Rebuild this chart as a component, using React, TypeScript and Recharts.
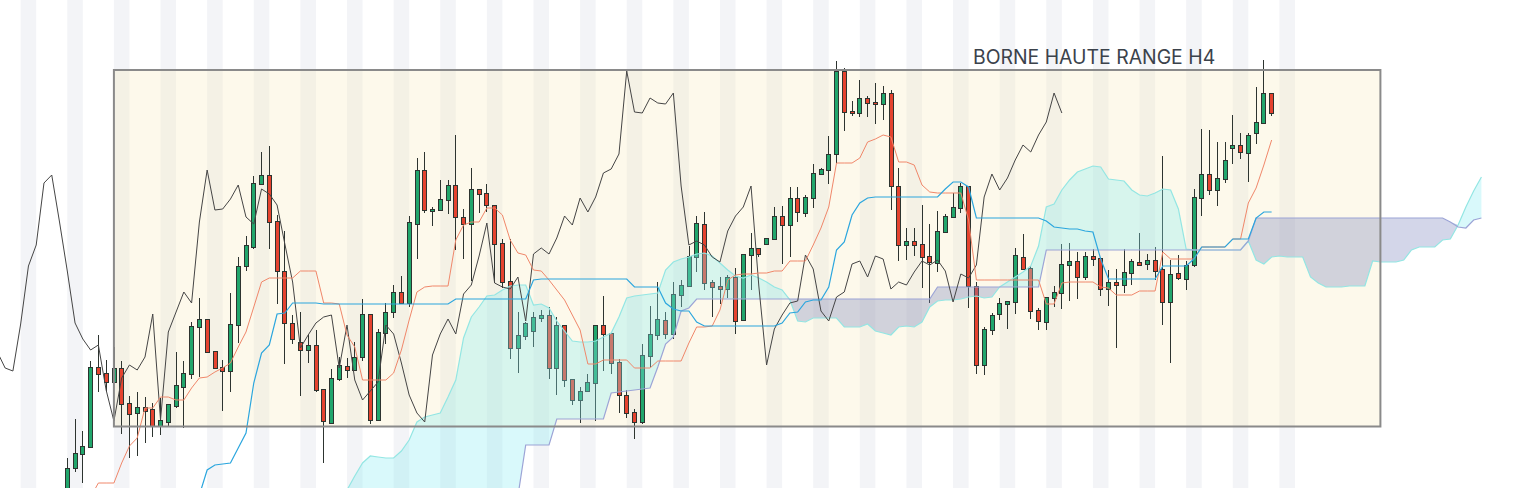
import React from 'react';
import { ComposedChart, XAxis, YAxis, Bar, Line, Area, ReferenceArea } from 'recharts';

const W = 1516;
const H = 488;

// candles, index 0 = first candle showing at the bottom left
const CANDLE_START = 0;
const opens = [
  -7, 20, 34, 41, 121, 115, 106, 120, 85, 75, 81, 79, 62, 66, 82, 101, 114, 161, 169, 137,
  121, 117, 163, 222, 241, 304, 313, 267, 217, 165, 146, 138, 143, 99, 65, 109, 122, 118, 131, 174,
  68, 155, 176, 196, 185, 264, 318, 277, 278, 288, 303, 271, 264, 299, 295, 283, 245, 207, 140, 152,
  157, 170, 173, 120, 163, 109, 88, 97, 105, 163, 155, 126, 93, 76, 66, 132, 153, 168, 154, 193,
  202, 231, 264, 206, 202, 199, 211, 168, 233, 240, 244, 249, 272, 263, 290, 275, 290, 314, 318, 334,
  417, 377, 375, 390, 386, 384, 395, 302, 243, 247, 244, 232, 225, 256, 271, 280, 302, 202, 123, 158,
  174, 184, 186, 231, 220, 178, 166, 190, 195, 223, 227, 211, 232, 230, 199, 206, 203, 215, 226, 224,
  228, 219, 186, 215, 209, 223, 290, 314, 298, 309, 340, 343, 335, 355, 365, 395,
];
const highs = [
  30, 69, 57, 127, 153, 128, 141, 127, 92, 96, 91, 85, 90, 84, 136, 127, 166, 190, 169, 137,
  128, 195, 231, 252, 312, 336, 342, 273, 257, 173, 176, 154, 158, 99, 119, 131, 130, 146, 189, 174,
  159, 185, 203, 212, 272, 330, 336, 281, 308, 308, 353, 279, 320, 299, 304, 283, 249, 249, 176, 166,
  176, 178, 181, 171, 163, 109, 101, 114, 163, 192, 155, 129, 98, 79, 144, 182, 206, 176, 206, 208,
  242, 272, 276, 208, 211, 213, 220, 234, 255, 240, 250, 281, 282, 301, 301, 293, 324, 320, 352, 427,
  420, 387, 408, 392, 405, 402, 398, 320, 260, 260, 283, 264, 277, 274, 295, 305, 302, 206, 161, 175,
  190, 187, 240, 254, 222, 180, 191, 202, 244, 245, 236, 236, 239, 230, 218, 219, 239, 229, 255, 234,
  241, 332, 228, 233, 227, 299, 359, 358, 346, 346, 373, 355, 355, 401, 428, 395,
];
const lows = [
  -12, 16, 5, 40, 96, 97, 106, 54, 30, 32, 45, 51, 53, 62, 80, 60, 109, 111, 135, 119,
  77, 96, 145, 217, 239, 303, 239, 184, 124, 144, 92, 125, 96, 25, 65, 107, 110, 118, 127, 64,
  68, 144, 170, 185, 181, 229, 275, 262, 278, 274, 238, 229, 207, 275, 276, 205, 200, 129, 115, 148,
  141, 166, 109, 93, 101, 83, 65, 96, 67, 117, 114, 75, 70, 49, 64, 121, 148, 149, 149, 181,
  202, 216, 198, 171, 184, 190, 154, 168, 198, 231, 243, 248, 224, 231, 266, 271, 280, 313, 304, 325,
  357, 372, 371, 371, 364, 368, 278, 227, 228, 232, 200, 185, 216, 255, 270, 275, 180, 114, 113, 153,
  168, 159, 174, 219, 169, 158, 158, 181, 179, 187, 189, 208, 222, 192, 182, 140, 195, 203, 223, 218,
  208, 163, 125, 208, 198, 221, 272, 293, 282, 305, 324, 329, 306, 344, 365, 372,
];
const closes = [
  20, 35, 42, 121, 114, 106, 120, 84, 74, 81, 77, 62, 68, 84, 103, 115, 162, 169, 136, 120,
  117, 164, 222, 243, 305, 313, 266, 217, 165, 149, 138, 143, 98, 67, 110, 123, 118, 131, 174, 68,
  156, 176, 196, 185, 266, 318, 278, 279, 289, 303, 271, 264, 299, 294, 283, 244, 206, 140, 153, 165,
  171, 173, 120, 163, 108, 88, 97, 106, 163, 154, 125, 93, 75, 66, 133, 154, 169, 154, 194, 203,
  232, 265, 205, 201, 199, 211, 167, 234, 240, 234, 250, 272, 263, 290, 276, 291, 315, 319, 334, 417,
  376, 375, 390, 385, 384, 395, 302, 243, 247, 243, 231, 226, 257, 272, 281, 302, 202, 123, 159, 173,
  185, 187, 233, 219, 177, 167, 191, 196, 224, 227, 211, 232, 229, 199, 206, 203, 216, 227, 223, 228,
  217, 186, 214, 210, 223, 291, 314, 298, 310, 328, 343, 336, 353, 366, 395, 375,
];

// lagging span (black line)
const CHIKOU_START = -9;
const chikou = [
  136, 120, 117, 164, 222, 243, 305, 313, 266, 217,
  165, 149, 138, 143, 98, 67, 110, 123, 118, 131,
  174, 68, 156, 176, 196, 185, 266, 318, 278, 279,
  289, 303, 271, 264, 299, 294, 283, 244, 206, 140,
  153, 165, 171, 173, 120, 163, 108, 88, 97, 106,
  163, 154, 125, 93, 75, 66, 133, 154, 169, 154,
  194, 203, 232, 265, 205, 201, 199, 211, 167, 234,
  240, 234, 250, 272, 263, 290, 276, 291, 315, 319,
  334, 417, 376, 375, 390, 385, 384, 395, 302, 243,
  247, 243, 231, 226, 257, 272, 281, 302, 202, 123,
  159, 173, 185, 187, 233, 219, 177, 167, 191, 196,
  224, 227, 211, 232, 229, 199, 206, 203, 216, 227,
  223, 228, 217, 186, 214, 210, 223, 291, 314, 298,
  310, 328, 343, 336, 353, 366, 395, 375,
];

const TENKAN_START = 3;
const tenkan = [
  -9, 5, 5, 5, 25, 42, 50, 80, 80, 91,
  91, 88, 88, 100, 110, 111, 116, 120, 125, 141,
  156, 181, 206, 210, 210, 210, 210, 217, 217, 217,
  185, 185, 184, 153, 141, 108, 108, 108, 108, 115,
  138, 168, 196, 201, 202, 202, 202, 248, 263, 266,
  266, 280, 280, 273, 248, 235, 233, 218, 217, 208,
  198, 188, 173, 158, 124, 124, 128, 128, 128, 128,
  120, 120, 120, 127, 127, 127, 127, 145, 161, 161,
  162, 178, 208, 213, 214, 214, 215, 215, 217, 217,
  227, 227, 227, 243, 260, 281, 325, 325, 325, 330,
  346, 349, 353, 351, 326, 326, 323, 303, 296, 295,
  295, 295, 295, 268, 208, 208, 208, 208, 208, 208,
  208, 208, 208, 184, 184, 205, 206, 206, 206, 206,
  201, 200, 193, 193, 193, 197, 197, 197, 236, 229,
  229, 229, 229, 241, 241, 241, 241, 249, 249, 285,
  300, 323, 348,
];

const KIJUN_START = 17;
const kijun = [
  -7, 18, 23, 24, 25, 40, 55, 105, 135, 143,
  174, 175, 185, 185, 185, 185, 184, 184, 184, 184,
  184, 184, 184, 184, 184, 184, 184, 184, 184, 184,
  184, 184, 184, 189, 189, 189, 189, 189, 189, 189,
  189, 189, 189, 208, 209, 209, 209, 209, 209, 209,
  209, 209, 209, 209, 209, 209, 201, 201, 201, 201,
  185, 179, 177, 177, 166, 162, 162, 162, 162, 162,
  162, 162, 162, 162, 162, 165, 175, 176, 186, 188,
  188, 201, 238, 246, 273, 285, 290, 291, 291, 291,
  291, 291, 291, 291, 291, 291, 299, 306, 306, 301,
  270, 270, 270, 270, 270, 270, 270, 270, 270, 267,
  261, 260, 259, 259, 257, 256, 229, 209, 209, 209,
  209, 209, 209, 209, 222, 222, 222, 222, 229, 241,
  241, 241, 241, 249, 249, 249, 270, 276, 276,
];

// leading spans (cloud), they run 27 bars past the last candle
const SPAN_START = 34;
const spanA = [
  -22, -12, -2, 12, 25, 32, 31, 30, 30, 37,
  48, 66, 71, 73, 75, 91, 108, 150, 171, 181,
  192, 193, 198, 202, 203, 203, 183, 184, 180, 167,
  157, 147, 146, 146, 147, 151, 155, 171, 190, 192,
  193, 194, 195, 218, 226, 229, 231, 234, 235, 232,
  225, 218, 212, 210, 213, 210, 206, 201, 198, 188,
  167, 166, 170, 170, 170, 170, 161, 161, 161, 164,
  157, 155, 153, 161, 162, 161, 166, 181, 187, 188,
  188, 189, 191, 192, 190, 191, 201, 206, 211, 216,
  222, 242, 281, 284, 298, 308, 316, 319, 322, 321,
  309, 308, 307, 298, 293, 292, 295, 299, 298, 279,
  239, 238, 238, 238, 238, 238, 238, 238, 247, 228,
  224, 231, 232, 231, 231, 231, 211, 205, 201, 201,
  201, 202, 202, 202, 227, 226, 226, 226, 228, 238,
  241, 241, 241, 248, 249, 263, 281, 297, 311,
];
const spanB = [
  -30, -30, -30, -30, -30, -30, -30, -30, -30, -30,
  -30, -30, -30, -30, -30, -30, -30, -30, -30, -30,
  -30, -30, -30, -30, -8, 43, 43, 43, 43, 69,
  69, 69, 69, 69, 69, 69, 95, 96, 97, 98,
  99, 100, 121, 144, 151, 177, 180, 189, 189, 189,
  189, 189, 189, 189, 189, 189, 189, 189, 189, 189,
  189, 189, 189, 189, 189, 189, 189, 189, 189, 189,
  189, 189, 189, 189, 189, 189, 189, 189, 201, 201,
  201, 201, 201, 201, 201, 201, 201, 201, 201, 201,
  201, 201, 238, 238, 238, 238, 238, 238, 238, 238,
  238, 238, 238, 238, 238, 238, 238, 238, 238, 238,
  238, 238, 238, 238, 238, 238, 238, 238, 247, 270,
  270, 270, 270, 270, 270, 270, 270, 270, 270, 270,
  270, 270, 270, 270, 270, 270, 270, 270, 270, 270,
  270, 270, 270, 270, 266, 261, 260, 268, 270,
];

// H4 range box
const rangeStart = 6;
const rangeEnd = 169;
const rangeLow = 61.5;
const rangeHigh = 418;
const rangeLabel = 'BORNE HAUTE RANGE H4';

// session stripes, 2 bars wide every 6 bars
const stripeStarts = Array.from({ length: 28 }, (_, k) => (k - 1) * 6);

const FIRST = -9;
const LAST = 182;

const GREEN = '#21a66c';
const RED = '#e5432f';
const EDGE = '#2d3430';

const pick = (arr: number[], start: number, i: number) => arr[i - start];

const rows: any[] = [];
for (let i = FIRST; i <= LAST; i++) {
  const o = pick(opens, CANDLE_START, i);
  const a = pick(spanA, SPAN_START, i);
  const b = pick(spanB, SPAN_START, i);
  rows.push({
    i,
    o,
    h: pick(highs, CANDLE_START, i),
    l: pick(lows, CANDLE_START, i),
    c: pick(closes, CANDLE_START, i),
    chikou: pick(chikou, CHIKOU_START, i),
    tenkan: pick(tenkan, TENKAN_START, i),
    kijun: pick(kijun, KIJUN_START, i),
    spanA: a,
    spanB: b,
    bull: a === undefined ? undefined : [b, Math.max(a, b)],
    bear: a === undefined ? undefined : [a, Math.max(a, b)],
  });
}

function Candle(props: any) {
  const { x, y, width, height, payload } = props;
  if (!payload || payload.o === undefined) return null;
  const { o, h, l, c } = payload;
  const top = Math.min(y, y + height);
  const bottom = Math.max(y, y + height);
  const k = (bottom - top) / (h - l);
  const py = (v: number) => top + (h - v) * k;
  const cx = Math.round(x + width / 2);
  const bTop = Math.round(py(Math.max(o, c))) + 0.5;
  const bBot = Math.round(py(Math.min(o, c))) + 0.5;
  return (
    <g>
      <line x1={cx + 0.5} x2={cx + 0.5} y1={py(h)} y2={py(l)} stroke={EDGE} strokeWidth={1} />
      <rect
        x={cx - 1.5}
        y={bTop}
        width={4}
        height={Math.max(1, bBot - bTop)}
        fill={c >= o ? GREEN : RED}
        stroke={EDGE}
        strokeWidth={1}
      />
    </g>
  );
}

export default function App() {
  return (
    <div style={{ position: 'relative', width: W, height: H, overflow: 'hidden' }}>
      <style>{'body{margin:0;background:#fff}'}</style>
      <ComposedChart width={W} height={H} data={rows} margin={{ top: 0, right: 0, bottom: 0, left: 0 }}>
        <XAxis dataKey="i" type="number" domain={[-8.66, 186.45]} allowDataOverflow hide />
        <YAxis type="number" domain={[0, H]} allowDataOverflow hide />

        {stripeStarts.map((s) => (
          <ReferenceArea key={s} x1={s} x2={s + 2} fill="#f3f4f7" fillOpacity={1} stroke="none" zIndex={-20} />
        ))}
        <ReferenceArea
          x1={rangeStart}
          x2={rangeEnd}
          y1={rangeLow}
          y2={rangeHigh}
          fill="rgb(250,236,190)"
          fillOpacity={0.3}
          stroke="none"
          zIndex={-10}
        />

        <Bar
          dataKey={(d: any) => (d.o === undefined ? null : [d.l, d.h])}
          barSize={5}
          shape={<Candle />}
          isAnimationActive={false}
          zIndex={300}
        />

        <Area
          type="linear"
          dataKey="bull"
          stroke="none"
          fill="rgb(136,236,242)"
          fillOpacity={0.32}
          isAnimationActive={false}
          zIndex={350}
        />
        <Area
          type="linear"
          dataKey="bear"
          stroke="none"
          fill="rgb(118,128,186)"
          fillOpacity={0.32}
          isAnimationActive={false}
          zIndex={350}
        />
        <Line type="linear" dataKey="spanA" stroke="#93e6e3" strokeWidth={1.2} dot={false} isAnimationActive={false} zIndex={380} />
        <Line type="linear" dataKey="spanB" stroke="#9ca4d6" strokeWidth={1.2} dot={false} isAnimationActive={false} zIndex={380} />

        <Line type="linear" dataKey="chikou" stroke="#454545" strokeWidth={1} dot={false} isAnimationActive={false} zIndex={400} />
        <Line type="linear" dataKey="tenkan" stroke="#f0876a" strokeWidth={1} dot={false} isAnimationActive={false} zIndex={400} />
        <Line type="linear" dataKey="kijun" stroke="#2ba6de" strokeWidth={1.2} dot={false} isAnimationActive={false} zIndex={400} />

        <ReferenceArea
          x1={rangeStart}
          x2={rangeEnd}
          y1={rangeLow}
          y2={rangeHigh}
          fill="none"
          stroke="#8a8a8a"
          strokeWidth={2}
          zIndex={450}
        />
      </ComposedChart>
      <svg width={W} height={H} style={{ position: 'absolute', left: 0, top: 0, pointerEvents: 'none' }}>
        <text x={973} y={64} fontFamily="Inter, Roboto, sans-serif" fontSize={19.4} fill="#3b424b">
          {rangeLabel}
        </text>
      </svg>
    </div>
  );
}
